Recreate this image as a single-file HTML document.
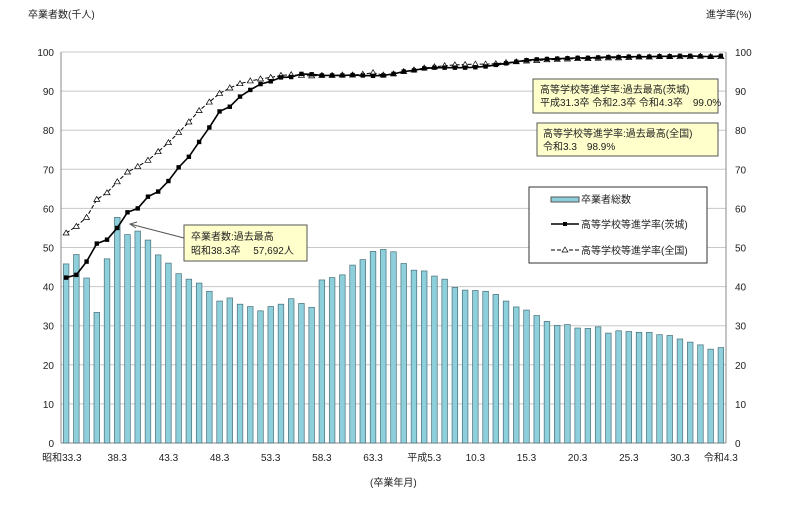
<!DOCTYPE html>
<html><head><meta charset="utf-8"><style>
body{margin:0;background:#fff;font-family:"Liberation Sans","Noto Sans CJK JP",sans-serif;}
svg text{font-family:"Liberation Sans","Noto Sans CJK JP",sans-serif;font-size:10px;fill:#222;}
</style></head><body>
<svg id="chart" width="800" height="514">
<g id="grid"></g><g id="bars"></g><g id="lines"></g><g id="axes"></g>
<g>
<line x1="184" y1="238" x2="130" y2="224" stroke="#555" stroke-width="1"/>
<polyline points="137,222 130,224 136,228" fill="none" stroke="#555"/>
<rect x="184" y="225" width="123" height="36" fill="#ffffcc" stroke="#555"/>
<text x="191" y="240">卒業者数:過去最高</text>
<text x="191" y="254">昭和38.3卒　 57,692人</text>
</g>
<g>
<rect x="533" y="79" width="185" height="34" fill="#ffffcc" stroke="#555"/>
<text x="540" y="93">高等学校等進学率:過去最高(茨城)</text>
<text x="540" y="106">平成31.3卒 令和2.3卒 令和4.3卒　99.0%</text>
</g>
<g>
<rect x="537" y="123" width="181" height="33" fill="#ffffcc" stroke="#555"/>
<text x="543" y="137">高等学校等進学率:過去最高(全国)</text>
<text x="543" y="150">令和3.3　98.9%</text>
</g>
<g>
<rect x="529" y="187" width="178" height="76" fill="#fff" stroke="#333"/>
<rect x="551" y="197" width="28" height="5" fill="#8ecfdc" stroke="#555"/>
<text x="581" y="203">卒業者総数</text>
<line x1="551" y1="224" x2="579" y2="224" stroke="#000" stroke-width="1.5"/><rect x="563" y="222" width="4" height="4"/>
<text x="581" y="228">高等学校等進学率(茨城)</text>
<line x1="551" y1="250" x2="579" y2="250" stroke="#000" stroke-dasharray="4,2"/><polygon points="565,247 562,252 568,252" fill="#fff" stroke="#000" stroke-width="0.7"/>
<text x="581" y="254">高等学校等進学率(全国)</text>
</g>
<text x="28" y="18">卒業者数(千人)</text>
<text x="706" y="18">進学率(%)</text>
<text x="370" y="486">(卒業年月)</text>
</svg>
<script>
const grads=[45.8,48.2,42.2,33.4,47.1,57.7,53.3,54.2,51.9,48.1,46.0,43.3,41.9,40.9,38.8,36.3,37.1,35.5,34.9,33.8,34.9,35.5,36.9,35.7,34.7,41.7,42.3,43.0,45.5,46.9,49.0,49.5,48.9,45.9,44.2,44.0,42.7,41.9,39.8,39.1,39.0,38.8,38.0,36.3,34.8,34.0,32.6,31.1,30.1,30.3,29.4,29.3,29.7,28.1,28.7,28.5,28.3,28.3,27.7,27.5,26.6,25.8,25.1,24.0,24.4];
const rateIbaraki=[42.3,43.0,46.4,51.0,52.0,55.0,59.0,60.0,63.0,64.3,67.0,70.5,73.2,77.0,80.7,84.8,86.0,88.6,90.3,91.8,92.5,93.5,93.6,94.4,94.3,94.0,94.0,94.0,94.1,94.0,93.9,94.0,94.4,95.0,95.3,95.8,96.0,96.0,96.0,96.0,96.1,96.3,96.7,97.1,97.5,97.9,98.1,98.2,98.3,98.4,98.5,98.5,98.6,98.7,98.7,98.8,98.8,98.8,98.9,98.9,99.0,99.0,98.9,98.8,99.0];
const rateNational=[53.7,55.4,57.7,62.3,64.0,66.8,69.3,70.7,72.3,74.5,76.8,79.4,82.1,85.0,87.2,89.4,90.8,91.9,92.6,93.1,93.5,94.0,94.2,94.0,93.9,94.0,94.0,94.1,94.1,94.3,94.7,94.1,94.4,95.0,95.4,95.9,96.2,96.5,96.7,96.8,96.9,96.9,97.0,97.3,97.5,97.7,97.8,98.0,98.1,98.2,98.3,98.3,98.4,98.5,98.5,98.6,98.7,98.7,98.8,98.8,98.8,98.8,98.9,98.8,98.8];
const xTickLabels=[[0,"昭和33.3"],[5,"38.3"],[10,"43.3"],[15,"48.3"],[20,"53.3"],[25,"58.3"],[30,"63.3"],[35,"平成5.3"],[40,"10.3"],[45,"15.3"],[50,"20.3"],[55,"25.3"],[60,"30.3"],[64,"令和4.3"]];
const yTicks=[0,10,20,30,40,50,60,70,80,90,100];
const NS="http://www.w3.org/2000/svg";
const L=61,R=726,T=52,B=443,n=grads.length,step=(R-L)/n;
const x=i=>L+step*(i+0.5), y=v=>B-(v/100)*(B-T);
function mk(tag,attrs,parent){const e=document.createElementNS(NS,tag);for(const k in attrs)e.setAttribute(k,attrs[k]);document.getElementById(parent).appendChild(e);return e;}
yTicks.forEach(v=>{
 const g=mk('line',{x1:L,x2:R,y1:y(v),y2:y(v),stroke:v===0?'#888':'#c8c8c8','stroke-width':1},'grid');
 
 
 const t=mk('text',{x:L-7,y:y(v)+4,'text-anchor':'end'},'axes');t.textContent=v;
 
 
 const t2=mk('text',{x:R+9,y:y(v)+4},'axes');t2.textContent=v;
 
 
});
mk('line',{x1:L,x2:L,y1:T,y2:B,stroke:'#888'},'axes');
mk('line',{x1:R,x2:R,y1:T,y2:B,stroke:'#888'},'axes');
grads.forEach((v,i)=>{
 const b=mk('rect',{x:x(i)-2.8,y:y(v),width:5.6,height:B-y(v),fill:'#8ecfdc',stroke:'#4a6f78','stroke-width':0.7},'bars');
 
 
});
xTickLabels.forEach(([i,s])=>{
 const t=mk('text',{x:i===0?x(i)-24:x(i),y:461,'text-anchor':i===0?'start':'middle'},'axes');t.textContent=s;
 
 
});
const pn=mk('polyline',{points:rateNational.map((v,i)=>x(i)+','+y(v)).join(' '),fill:'none',stroke:'#000','stroke-width':1,'stroke-dasharray':'4,2'},'lines');


rateNational.forEach((v,i)=>{
 const m=mk('polygon',{points:`${x(i)},${y(v)-3} ${x(i)-3},${y(v)+2} ${x(i)+3},${y(v)+2}`,fill:'#fff',stroke:'#000','stroke-width':0.7},'lines');
 
 
});
const pi=mk('polyline',{points:rateIbaraki.map((v,i)=>x(i)+','+y(v)).join(' '),fill:'none',stroke:'#000','stroke-width':1.6},'lines');


rateIbaraki.forEach((v,i)=>{
 const m=mk('rect',{x:x(i)-2.2,y:y(v)-2.2,width:4.4,height:4.4,fill:'#000'},'lines');
 
 
});
</script>
</body></html>
